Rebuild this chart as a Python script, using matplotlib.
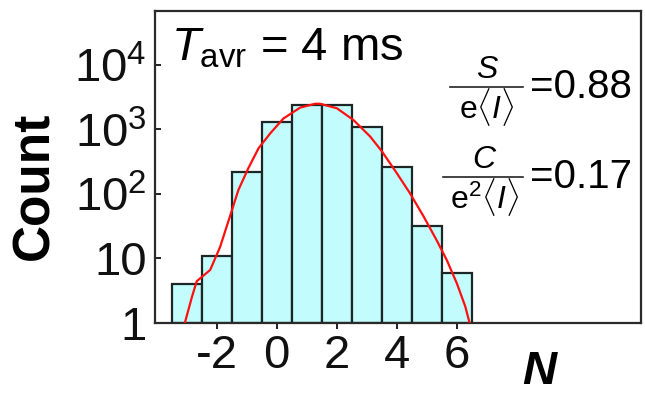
import numpy as np
import matplotlib
matplotlib.use("Agg")
import matplotlib.pyplot as plt
from matplotlib.lines import Line2D

plt.rcParams['font.family'] = ['Liberation Sans', 'DejaVu Sans']
plt.rcParams['mathtext.fontset'] = 'custom'
plt.rcParams['mathtext.rm'] = 'Liberation Sans'
plt.rcParams['mathtext.it'] = 'Liberation Sans:italic'
plt.rcParams['mathtext.bf'] = 'Liberation Sans:bold'

# Histogram of transferred charge N over the averaging window
bin_centers = [-3, -2, -1, 0, 1, 2, 3, 4, 5, 6]
counts = [3, 10, 216, 1300, 2400, 2400, 1080, 259, 31, 5]

# Fitted distribution (red curve)
fit_n = [-3.09, -2.83, -2.67, -2.22, -1.89, -1.56, -1.28, -0.95, -0.61, -0.22,
         0.22, 0.78, 1.28, 1.44, 2.00, 2.55, 3.11, 3.50, 4.00, 4.44, 4.89,
         5.33, 5.67, 6.00, 6.28, 6.45]
fit_counts = [0.9, 2.5, 4.4, 6.6, 15, 45, 115, 250, 510, 870,
              1480, 2190, 2510, 2510, 2140, 1410, 780, 460, 210, 102, 45,
              19, 9.3, 4.1, 1.8, 0.9]

x_ticks = [-2, 0, 2, 4, 6]
y_ticks = [1, 10, 100, 1000, 10000]
y_tick_labels = ['1', '10', r'10$^{2}$', r'10$^{3}$', r'10$^{4}$']

W, H = 645, 393
fig = plt.figure(figsize=(W / 100, H / 100), dpi=100)
ax = fig.add_axes([155 / W, 1 - 322.7 / H, (641 - 155) / W, (322.7 - 11) / H])

ax.bar(bin_centers, counts, width=1.0, bottom=1, color='#c2fcfc',
       edgecolor='#1c2626', linewidth=1.6, zorder=2)
ax.plot(fit_n, fit_counts, color='#ff1010', linewidth=1.6, zorder=3)

ax.set_yscale('log')
ax.set_xlim(-4.06, 12.14)
ax.set_ylim(1, 10 ** 4.84)

ax.set_xticks(x_ticks)
ax.set_xticklabels([str(t) for t in x_ticks])
ax.set_yticks(y_ticks)
ax.set_yticklabels(y_tick_labels)
ax.yaxis.set_minor_locator(matplotlib.ticker.NullLocator())

ax.tick_params(axis='x', direction='out', length=4, width=1.3, pad=4,
               labelsize=34, colors='#111111')
ax.tick_params(axis='y', direction='in', length=4, width=1.3, pad=6,
               labelsize=34, colors='#111111')
for s in ax.spines.values():
    s.set_linewidth(1.6)
    s.set_color('#2a2a2a')

# Axis titles
fig.text(35 / W, 1 - 186 / H, 'Count', rotation=90, ha='center', va='center',
         fontsize=37, fontweight='bold')
fig.text(539 / W, 1 - 372 / H, 'N', ha='center', va='center', fontsize=34,
         fontweight='bold', fontstyle='italic')

# Annotations inside the frame
fig.text(171 / W, 1 - 48 / H, r'$T_{\mathrm{avr}}$ = 4 ms', ha='left',
         va='center', fontsize=34)

def fraction(xc, y_bar, num, den, value, x0, x1):
    fig.text(xc / W, 1 - (y_bar - 17) / H, num, ha='center', va='center',
             fontsize=23)
    fig.text(xc / W, 1 - (y_bar + 20) / H, den, ha='center', va='center',
             fontsize=23)
    fig.add_artist(Line2D([x0 / W, x1 / W], [1 - y_bar / H, 1 - y_bar / H],
                          color='#222222', linewidth=1.2))
    fig.text((x1 + 7) / W, 1 - (y_bar + 1) / H, value, ha='left', va='center',
             fontsize=29)

fraction(487, 86.5, r'$S$', r'$\mathrm{e}\langle I\rangle$', '=0.88', 450, 523)
fraction(485, 176.5, r'$C$', r'$\mathrm{e}^{2}\langle I\rangle$', '=0.17', 443, 523)

fig.savefig('out.png', dpi=100, facecolor='white')
